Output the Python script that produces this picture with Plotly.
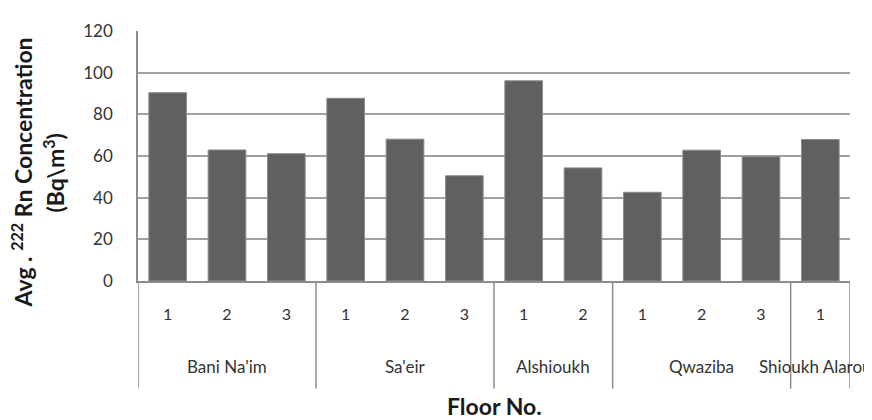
import plotly.graph_objects as go

towns = ["Bani Na'im", "Sa'eir", "Alshioukh", "Qwaziba", "Shioukh Alaroub"]
floors_per_town = [["1", "2", "3"], ["1", "2", "3"], ["1", "2"], ["1", "2", "3"], ["1"]]
values = [90.4, 62.9, 61.1, 87.7, 68.1, 50.5, 96.1, 54.3, 42.6, 62.8, 59.7, 67.9]
y_ticks = [0, 20, 40, 60, 80, 100, 120]

floor_labels = [f for fl in floors_per_town for f in fl]
xs = list(range(len(floor_labels)))

OFF = 8  # page body margin
W, H = 872 - OFF, 420 - OFF
L, R, T, B = 138 - OFF, 22, 23 - OFF, 139
ph = H - T - B

def py(px):
    # px in window coordinates
    return (H - B - (px - OFF)) / ph

font = "Lato, Carlito, Calibri, sans-serif"

fig = go.Figure(go.Bar(
    x=xs, y=values, width=0.635,
    marker=dict(color="#606060", line=dict(color="#8c8c8c", width=1)),
))

shapes = []
annotations = []
start = 0
bounds = [-0.5]
for town, fl in zip(towns, floors_per_town):
    n = len(fl)
    center = start + (n - 1) / 2
    annotations.append(dict(x=center, xref="x", y=py(369), yref="paper", text=town,
                            showarrow=False, font=dict(family=font, size=17, color="#333333"),
                            xanchor="center", yanchor="middle"))
    start += n
    bounds.append(start - 0.5)
for b in bounds:
    shapes.append(dict(type="line", xref="x", yref="paper", x0=b, x1=b, y0=0, y1=py(392),
                       line=dict(color="#8c8c8c", width=1.5)))

annotations.append(dict(x=0, xref="paper", xshift=-116, y=py(169), yref="paper",
                        text="<b>Avg . <sup>222</sup> Rn Concentration</b>", textangle=-90,
                        showarrow=False, font=dict(family=font, size=23, color="#1a1a1a"),
                        xanchor="center", yanchor="middle"))
annotations.append(dict(x=0, xref="paper", xshift=-84, y=py(170), yref="paper",
                        text="<b>(Bq\\m<sup>3</sup>)</b>", textangle=-90,
                        showarrow=False, font=dict(family=font, size=23, color="#1a1a1a"),
                        xanchor="center", yanchor="middle"))
annotations.append(dict(x=0.5, xref="paper", y=py(410), yref="paper",
                        text="<b>Floor No.</b>", showarrow=False,
                        font=dict(family=font, size=23, color="#1a1a1a"),
                        xanchor="center", yanchor="middle"))

fig.update_layout(
    width=W, height=H,
    margin=dict(l=L, r=R, t=T, b=B),
    plot_bgcolor="white", paper_bgcolor="white",
    showlegend=False,
    shapes=shapes, annotations=annotations,
    font=dict(family=font, color="#333333"),
)
fig.update_xaxes(
    range=[-0.5, len(xs) - 0.5], tickmode="array", tickvals=xs, ticktext=floor_labels,
    tickfont=dict(size=16, family=font, color="#333333"),
    showgrid=False, showline=True, linecolor="#8c8c8c", linewidth=1.5,
    ticks="", ticklabelstandoff=18, fixedrange=True,
)
fig.update_yaxes(
    range=[0, 120], tickmode="array", tickvals=y_ticks,
    tickfont=dict(size=17, family=font, color="#333333"),
    showgrid=True, gridcolor="#a0a0a0", gridwidth=1.5,
    showline=True, linecolor="#8c8c8c", linewidth=1.5,
    zeroline=False, ticks="", ticklabelstandoff=20,
)

fig.write_html("out.html")
